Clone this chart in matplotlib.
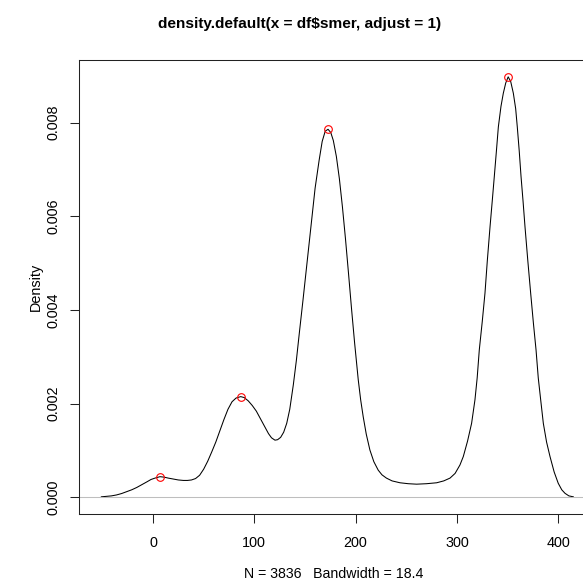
import matplotlib
matplotlib.use("Agg")
import matplotlib.pyplot as plt

plt.rcParams['font.family'] = ['Liberation Sans', 'DejaVu Sans']

# density curve
dens_x = [-51, -46, -41, -36, -31, -26, -21, -16, -11, -6, -2, 2, 6.9, 11, 15,
          20, 25, 30, 34, 38, 42, 46, 50, 54, 58, 62, 66, 70, 74, 78, 82, 86.6,
          90, 94, 98, 102, 106, 110, 114, 117, 120.4, 123, 126, 129, 132, 135,
          138.5, 141.5, 144.5, 148, 152, 156, 160, 164, 167, 170, 172.8,
          175.5, 178, 181, 184, 187, 190, 193, 196, 199, 202.6, 205, 207.5,
          210.5, 214.1, 218, 222.3, 226, 230.4, 236, 243.8, 252, 260.2, 270,
          280, 287, 293.2, 298.2, 303, 306.3, 310.5, 314.5, 317.8, 320, 322.1,
          325, 327.7, 330, 332.7, 335, 336.9, 339, 340.9, 343.5, 345.8, 348.2,
          350.6, 353.1, 355.7, 358, 359.6, 361.5, 363.3, 365.3, 367.2, 370,
          372.8, 375.5, 378.1, 380.3, 382.7, 385.3, 388.5, 391.9, 396, 400,
          403.5, 406.7, 410.5, 414.9]
dens_y = [0.00001, 0.00002, 0.00003, 0.00005, 0.00008, 0.00012, 0.00016,
          0.00021, 0.00027, 0.00033, 0.00038, 0.00041, 0.00044, 0.00043,
          0.00041, 0.00039, 0.00037, 0.00036, 0.00036, 0.00037, 0.00040,
          0.00047, 0.00060, 0.00077, 0.00097, 0.00118, 0.00142, 0.00166,
          0.00188, 0.00204, 0.00212, 0.00215, 0.00213, 0.00206, 0.00196,
          0.00184, 0.00168, 0.00152, 0.00136, 0.00127, 0.00122, 0.00123,
          0.00128, 0.00139, 0.00158, 0.00188, 0.00240, 0.00292, 0.00352,
          0.00420, 0.00500, 0.00580, 0.00660, 0.00720, 0.00760, 0.00782,
          0.00786, 0.00779, 0.00762, 0.00728, 0.00680, 0.00620, 0.00552,
          0.00478, 0.00402, 0.00330, 0.00251, 0.00208, 0.00172, 0.00135,
          0.00101, 0.00076, 0.00058, 0.00048, 0.00041, 0.00035, 0.00031,
          0.00029, 0.00028, 0.00029, 0.00031, 0.00035, 0.00041, 0.00051,
          0.00069, 0.00087, 0.00120, 0.00158, 0.00208, 0.00255, 0.00315,
          0.00375, 0.00436, 0.00505, 0.00578, 0.00636, 0.00685, 0.00740,
          0.00791, 0.00835, 0.00863, 0.00885, 0.00898, 0.00888, 0.00863,
          0.00830, 0.00791, 0.00740, 0.00685, 0.00632, 0.00578, 0.00505,
          0.00436, 0.00372, 0.00315, 0.00255, 0.00208, 0.00158, 0.00118,
          0.00087, 0.00054, 0.00030, 0.00016, 0.000085, 0.00003, 0.00001]

# local maxima marked with red circles
peak_x = [6.9, 86.6, 172.8, 350.6]
peak_y = [0.00044, 0.00215, 0.00786, 0.00898]

xticks = [0, 100, 200, 300, 400]
yticks = [0.000, 0.002, 0.004, 0.006, 0.008]
ytick_labels = ['0.000', '0.002', '0.004', '0.006', '0.008']

W, H = 583, 581
fig = plt.figure(figsize=(W / 100, H / 100), dpi=100)

# plot region; the right edge runs past the picture like the original crop
left, right, top, bottom = 79, 595.7, 60, 514
ax = fig.add_axes([left / W, (H - bottom) / H, (right - left) / W, (bottom - top) / H])

ax.plot(dens_x, dens_y, color='black', lw=0.75)
ax.axhline(0, color='#bebebe', lw=0.75)
ax.plot(peak_x, peak_y, 'o', mfc='none', mec='red', ms=5.5, mew=0.8)

ax.set_xlim(-73.05, 437)
ax.set_ylim(-0.000357, 0.00934)

ax.set_xticks(xticks)
ax.set_yticks(yticks)
ax.set_yticklabels(ytick_labels, rotation=90, va='center')
ax.tick_params(direction='out', length=6.5, width=0.75, colors='#222222',
               labelsize=10.4, labelcolor='black')
ax.tick_params(axis='x', pad=9)
ax.tick_params(axis='y', pad=7)
for s in ax.spines.values():
    s.set_linewidth(0.75)
    s.set_color('#222222')

fig.text(299.7 / W, 1 - 24 / H, 'density.default(x = df$smer, adjust = 1)',
         ha='center', va='center', fontsize=11.1, fontweight='bold')
fig.text(36 / W, 1 - 287 / H, 'Density', rotation=90, ha='center', va='center',
         fontsize=10.4)
fig.text(333.7 / W, 1 - 573.5 / H, 'N = 3836   Bandwidth = 18.4',
         ha='center', va='center', fontsize=10.2)

fig.savefig('out.png', dpi=100)
